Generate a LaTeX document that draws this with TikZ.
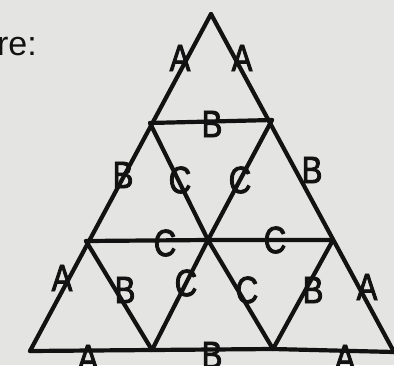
\documentclass[tikz,border=0pt]{standalone}
\usepackage{fontspec}
\setmainfont{Liberation Sans}
\newfontfamily\handfont[FakeStretch=0.82,FakeBold=2.2]{Liberation Sans}
\definecolor{paper}{RGB}{228,228,226}
\definecolor{ink}{RGB}{18,18,18}
\begin{document}
\begin{tikzpicture}[x=1pt,y=-1pt,
  edge/.style={draw=ink,line width=4.2pt,line cap=round,line join=round},
  lab/.style={text=ink,font=\handfont\fontsize{38}{40}\selectfont,inner sep=0pt},
  caption/.style={text=ink,font=\fontsize{34}{38}\selectfont,inner sep=0pt,anchor=base east}]
\useasboundingbox (0,0) rectangle (394,365);
\clip (0,0) rectangle (394,365);
\fill[paper] (0,0) rectangle (394,365);
\node[caption] (cap) at (37,55) {re:};
% vertices
\coordinate (T) at (211,14);
\coordinate (L1) at (150,123);
\coordinate (R1) at (272,120);
\coordinate (L2) at (86,241);
\coordinate (M2) at (208,240);
\coordinate (R2) at (333,240);
\coordinate (B0) at (30,351);
\coordinate (B1) at (152,350);
\coordinate (B2) at (273,349);
\coordinate (B3) at (394,352);
% edges
\draw[edge] (T) -- (B0);
\draw[edge] (T) -- (B3);
\draw[edge] (B0) -- (B1) -- (B2) -- (B3);
\draw[edge] (L1) -- (R1);
\draw[edge] (L2) -- (M2) -- (R2);
\draw[edge] (L1) -- (M2) -- (B2);
\draw[edge] (R1) -- (M2) -- (B1);
\draw[edge] (L2) -- (B1);
\draw[edge] (R2) -- (B2);
% labels
\node[lab] (a1) at (180,58) {A};
\node[lab] (a2) at (242,58) {A};
\node[lab] (b1) at (212,124) {B};
\node[lab] (b2) at (123,175) {B};
\node[lab] (b3) at (312,170) {B};
\node[lab] (c1) at (180,180) {C};
\node[lab] (c2) at (240,180) {C};
\node[lab] (c3) at (165,243) {C};
\node[lab] (c4) at (275,240) {C};
\node[lab] (a3) at (62,278) {A};
\node[lab] (a4) at (367,287) {A};
\node[lab] (b4) at (125,290) {B};
\node[lab] (c5) at (186,283) {C};
\node[lab] (c6) at (247,290) {C};
\node[lab] (b5) at (313,290) {B};
\node[lab] (a5) at (88,358) {A};
\node[lab] (b6) at (212,355) {B};
\node[lab] (a6) at (345,358) {A};
\end{tikzpicture}
\end{document}
